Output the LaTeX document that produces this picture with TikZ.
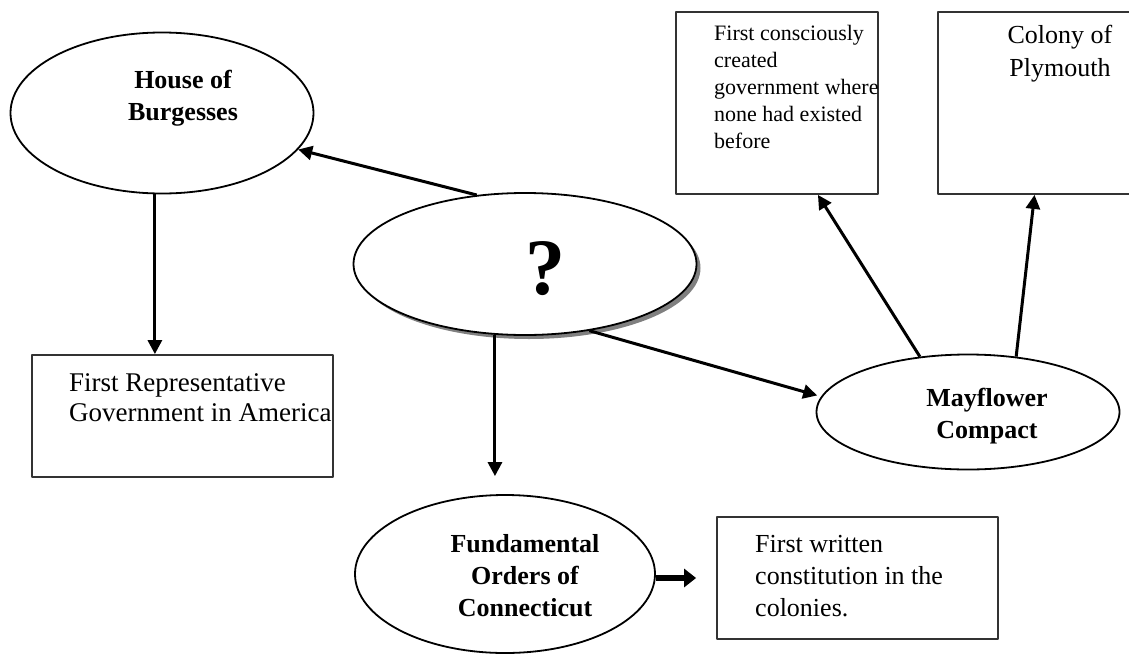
\documentclass[tikz,border=0pt]{standalone}
\usepackage{fontspec}
\setmainfont{Liberation Serif}
\usetikzlibrary{shapes.geometric,arrows.meta,shadows}
\begin{document}
\begin{tikzpicture}[x=1pt,y=-1pt, line join=round,
  oval/.style={draw, ellipse, line width=1.8pt, inner sep=0pt},
  frame/.style={draw=black!80, rectangle, line width=1.8pt, inner sep=0pt},
  bold/.style={font=\fontsize{26}{32}\selectfont\bfseries, align=center, inner sep=0pt},
  plain/.style={font=\fontsize{26}{30}\selectfont, align=left, inner sep=0pt},
  arr/.style={line width=3pt, -{Triangle[length=14pt,width=14pt]}},
  fat/.style={line width=5.5pt, -{Triangle[length=12pt,width=18pt]}}]
\useasboundingbox (0,0) rectangle (1129,656);
\clip (0,0) rectangle (1129,656);
% ellipses
\node[oval, minimum width=303pt, minimum height=161pt] (hob) at (162,113) {};
\node[bold] (hobtxt) at (183,98) {House of\\Burgesses};
\node[oval, minimum width=343pt, minimum height=142pt, fill=white,
  drop shadow={shadow xshift=4pt, shadow yshift=-4pt, fill=black!50, opacity=1}] (q) at (525,264) {};
\node[font=\fontsize{80}{80}\selectfont\bfseries, inner sep=0pt] (qtxt) at (545,269) {?};
\node[oval, minimum width=300pt, minimum height=158pt] (foc) at (505,574) {};
\node[bold] (foctxt) at (525,576) {Fundamental\\Orders of\\Connecticut};
\node[oval, minimum width=303pt, minimum height=115pt] (mc) at (968,412) {};
\node[bold] (mctxt) at (987,416) {Mayflower\\Compact};
% boxes
\node[frame, minimum width=301pt, minimum height=122pt] (rep) at (182.5,416) {};
\node[plain, font=\fontsize{27}{30}\selectfont, anchor=west] (reptxt) at (69,398) {First Representative\\Government in America};
\node[frame, minimum width=281pt, minimum height=122pt] (fwc) at (857.5,578) {};
\node[plain, font=\fontsize{26}{32}\selectfont, anchor=west] (fwctxt) at (755,576) {First written\\constitution in the\\colonies.};
\node[frame, minimum width=202pt, minimum height=182pt] (fc) at (777,103) {};
\node[plain, font=\fontsize{22}{27}\selectfont, anchor=west] (fctxt) at (714,87) {First consciously\\created\\government where\\none had existed\\before};
\node[frame, minimum width=193pt, minimum height=182pt] (col) at (1034.5,103) {};
\node[plain, font=\fontsize{26}{33}\selectfont, align=center] (coltxt) at (1060,54) {Colony of\\Plymouth};
% arrows
\draw[arr] (q.125) -- (hob.-15);
\draw[arr] (hob.265) -- (hob.265 |- rep.north);
\draw[arr, shorten >=18pt] (q.247) -- (q.247 |- foc.north);
\draw[arr, shorten >=4pt] (q.-46) -- (mc.174);
\draw[fat, shorten >=20pt] (foc.east |- fwc.west) -- (fwc.west);
\draw[arr] (mc.131) -- (fc.-66);
\draw[arr] (mc.49) -- (col.south);
\end{tikzpicture}
\end{document}
